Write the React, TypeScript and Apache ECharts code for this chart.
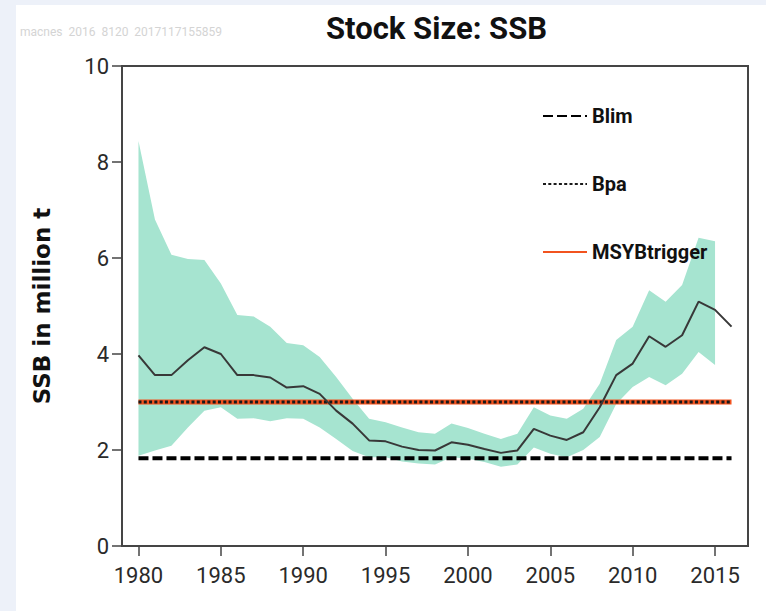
import React, { useEffect, useRef } from "react";
import * as echarts from "echarts";

const years = [
  1980, 1981, 1982, 1983, 1984, 1985, 1986, 1987, 1988, 1989,
  1990, 1991, 1992, 1993, 1994, 1995, 1996, 1997, 1998, 1999,
  2000, 2001, 2002, 2003, 2004, 2005, 2006, 2007, 2008, 2009,
  2010, 2011, 2012, 2013, 2014, 2015, 2016,
];
const ssb = [
  3.97, 3.56, 3.56, 3.87, 4.14, 4.0, 3.56, 3.56, 3.51, 3.3,
  3.33, 3.17, 2.82, 2.55, 2.2, 2.18, 2.07, 2.0, 1.99, 2.16,
  2.11, 2.02, 1.94, 1.99, 2.44, 2.3, 2.21, 2.37, 2.89, 3.56,
  3.8, 4.37, 4.15, 4.39, 5.09, 4.92, 4.57,
];
const bandYears = years.slice(0, 36);
const ssbUpper = [
  8.44, 6.8, 6.07, 5.98, 5.96, 5.47, 4.81, 4.78, 4.57, 4.23,
  4.18, 3.94, 3.52, 3.07, 2.65, 2.58, 2.47, 2.37, 2.34, 2.55,
  2.46, 2.34, 2.23, 2.34, 2.89, 2.72, 2.65, 2.86, 3.38, 4.29,
  4.57, 5.33, 5.09, 5.44, 6.42, 6.35,
];
const ssbLower = [
  1.88, 1.99, 2.09, 2.47, 2.82, 2.89, 2.65, 2.66, 2.6, 2.66,
  2.65, 2.47, 2.23, 1.98, 1.85, 1.85, 1.76, 1.72, 1.7, 1.85,
  1.82, 1.75, 1.65, 1.7, 2.05, 1.92, 1.85, 2.0, 2.27, 2.96,
  3.31, 3.52, 3.35, 3.59, 4.04, 3.77,
];
const refYears = [1980, 2016];
const blim = 1.83;
const bpa = 3.0;
const msyBtrigger = 3.0;
const xTickYears = [1980, 1985, 1990, 1995, 2000, 2005, 2010, 2015];

const LABEL_FONT = 'Roboto, "Liberation Sans", sans-serif';

export default function App() {
  const ref = useRef<HTMLDivElement>(null);
  useEffect(() => {
    if (!ref.current) return;
    const chart = echarts.init(ref.current, undefined, { renderer: "svg" });
    const pairs = (xs: number[], ys: number[]) => xs.map((x, i) => [x, ys[i]]);
    chart.setOption({
      animation: false,
      title: {
        text: "Stock Size: SSB",
        left: 321,
        top: 8,
        textStyle: { fontFamily: LABEL_FONT, fontWeight: "bold", fontSize: 31, color: "#111" },
      },
      graphic: [
        {
          type: "text",
          left: 20,
          top: 26,
          style: {
            text: "macnes  2016  8120  2017117155859",
            fontFamily: LABEL_FONT,
            fontSize: 12,
            fill: "#d4d4d4",
          },
        },
      ],
      legend: {
        orient: "vertical",
        left: 537,
        top: 99,
        itemWidth: 44,
        itemHeight: 14,
        itemGap: 44,
        data: ["Blim", "Bpa", "MSYBtrigger"],
        itemStyle: { opacity: 0 },
        textStyle: {
          fontFamily: LABEL_FONT,
          fontWeight: "bold",
          fontSize: 20,
          lineHeight: 24,
          color: "#111",
          padding: [0, 0, 0, 0],
        },
      },
      grid: {
        left: 122,
        top: 66,
        right: 18,
        bottom: 65,
        show: true,
        borderColor: "#454545",
        borderWidth: 2,
        backgroundColor: "transparent",
      },
      xAxis: {
        type: "value",
        min: 1979,
        max: 2017,
        axisLine: { show: true, lineStyle: { color: "#454545", width: 2 } },
        axisTick: { show: true, length: 10, inside: false, customValues: xTickYears, lineStyle: { color: "#454545", width: 1.5 } },
        axisLabel: {
          customValues: xTickYears,
          formatter: (v: number) => String(v),
          fontFamily: LABEL_FONT,
          fontSize: 22,
          color: "#2a2a2a",
          margin: 18,
        },
        splitLine: { show: false },
      },
      yAxis: {
        type: "value",
        min: 0,
        max: 10,
        interval: 2,
        name: "SSB in million t",
        nameLocation: "middle",
        nameGap: 69,
        nameTextStyle: { fontFamily: '"DejaVu Sans", Verdana, sans-serif', fontWeight: "bold", fontSize: 23, color: "#111" },
        axisLine: { show: true, lineStyle: { color: "#454545", width: 2 } },
        axisTick: { show: true, length: 10, lineStyle: { color: "#454545", width: 1.5 } },
        axisLabel: {
          formatter: (v: number) => String(v),
          fontFamily: LABEL_FONT,
          fontSize: 22,
          color: "#2a2a2a",
          margin: 13,
        },
        splitLine: { show: false },
      },
      series: [
        {
          name: "ci",
          type: "custom",
          silent: true,
          z: 1,
          data: bandYears.map((y, i) => [y, ssbLower[i], ssbUpper[i]]),
          encode: { x: 0, y: [1, 2] },
          renderItem: (params: any, api: any) => {
            if (params.dataIndex !== 0) return null;
            const top = bandYears.map((y, i) => api.coord([y, ssbUpper[i]]));
            const bottom = bandYears
              .map((y, i) => api.coord([y, ssbLower[i]]))
              .reverse();
            return {
              type: "polygon",
              shape: { points: top.concat(bottom) },
              style: { fill: "#a6e4d0", stroke: "none" },
            };
          },
        },
        {
          name: "Blim",
          type: "line",
          data: refYears.map((y) => [y, blim]),
          symbol: "none",
          lineStyle: { color: "#000", width: 4, type: [10, 4] },
          itemStyle: { color: "#000" },
          z: 3,
        },
        {
          name: "MSYBtrigger",
          type: "line",
          data: refYears.map((y) => [y, msyBtrigger]),
          symbol: "none",
          lineStyle: { color: "#f2531f", width: 5 },
          itemStyle: { color: "#f2531f" },
          z: 3,
        },
        {
          name: "Bpa",
          type: "line",
          data: refYears.map((y) => [y, bpa]),
          symbol: "none",
          lineStyle: { color: "#1a1a1a", width: 3, type: [3, 2.3] },
          itemStyle: { color: "#1a1a1a" },
          z: 4,
        },
        {
          name: "SSB",
          type: "line",
          data: pairs(years, ssb),
          symbol: "none",
          lineStyle: { color: "#383838", width: 2 },
          itemStyle: { color: "#383838" },
          z: 5,
        },
      ],
    });
    return () => chart.dispose();
  }, []);
  return (
    <div style={{ position: "fixed", left: 0, top: 0, width: 766, height: 611, background: "#edf1f9" }}>
      <div style={{ position: "absolute", left: 16, top: 5, right: 0, bottom: 0, background: "#ffffff" }} />
      <div ref={ref} style={{ position: "absolute", left: 0, top: 0, width: 766, height: 611 }} />
    </div>
  );
}
